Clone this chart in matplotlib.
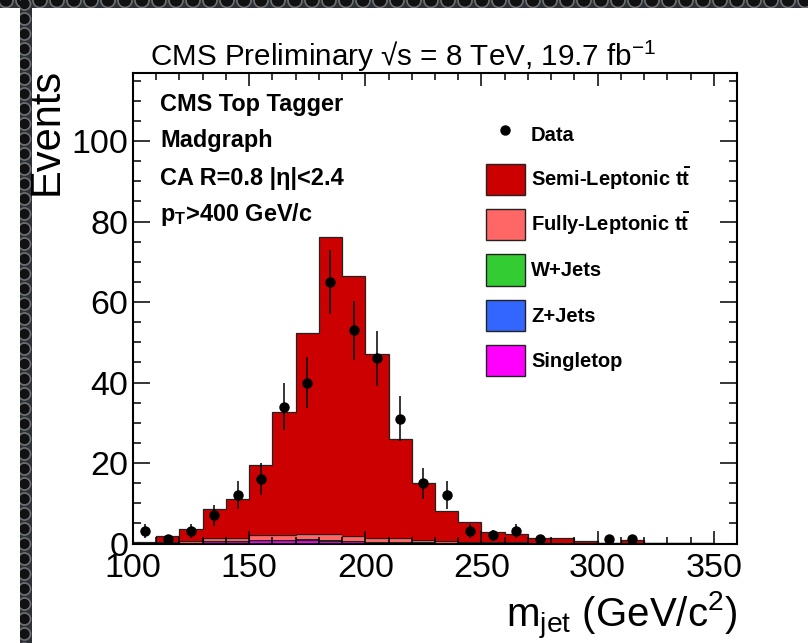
import numpy as np
import matplotlib
matplotlib.use("Agg")
import matplotlib.pyplot as plt
from matplotlib.patches import Circle, Patch
from matplotlib.lines import Line2D

plt.rcParams["font.family"] = ["Liberation Sans", "DejaVu Sans"]
plt.rcParams["mathtext.fontset"] = "custom"
plt.rcParams["mathtext.rm"] = "Liberation Sans"
plt.rcParams["mathtext.it"] = "Liberation Sans:italic"
plt.rcParams["mathtext.bf"] = "Liberation Sans:bold"

# ── histogram content (10 GeV bins, 100-350) ───────────────────────────────
bin_edges = np.arange(100, 351, 10)
singletop = [0.05, 0.05, 0.15, 0.65, 0.55, 0.8, 0.75, 0.85, 0.7, 0.55, 0.4, 0.3,
             0.2, 0.15, 0.1, 0.05, 0.05, 0.0, 0.0, 0.0, 0.0, 0.0, 0.0, 0.0, 0.0]
z_jets = [0.0, 0.0, 0.0, 0.02, 0.03, 0.05, 0.05, 0.05, 0.05, 0.04, 0.03, 0.02,
          0.02, 0.0, 0.0, 0.0, 0.0, 0.0, 0.0, 0.0, 0.0, 0.0, 0.0, 0.0, 0.0]
w_jets = [0.0, 0.0, 0.03, 0.05, 0.08, 0.1, 0.1, 0.1, 0.1, 0.08, 0.06, 0.05,
          0.04, 0.03, 0.02, 0.0, 0.0, 0.0, 0.0, 0.0, 0.0, 0.0, 0.0, 0.0, 0.0]
fully_lep = [0.1, 0.25, 0.4, 0.75, 0.6, 1.15, 1.3, 1.4, 1.4, 1.2, 1.0, 0.9,
             0.6, 0.4, 0.3, 0.2, 0.2, 0.15, 0.1, 0.05, 0.05, 0.05, 0.05, 0.05, 0.05]
semi_lep = [0.3, 1.6, 2.9, 7.1, 9.7, 17.3, 30.4, 50.0, 73.8, 64.6, 45.6, 24.6,
            14.1, 7.6, 4.8, 2.5, 2.0, 1.1, 1.3, 0.5, 0.05, 0.9, 0.15, 0.15, 0.15]

data_counts = [3, 1, 3, 7, 12, 16, 34, 40, 65, 53, 46, 31,
               15, 12, 3, 2, 3, 1, 0, 0, 1, 1, 0, 0, 0]

# stack order bottom -> top
samples = [
    ("Singletop", singletop, "#ff00ff"),
    ("Z+Jets", z_jets, "#3366ff"),
    ("W+Jets", w_jets, "#33cc33"),
    ("Fully-Leptonic t$\\mathbf{\\bar{t}}$", fully_lep, "#ff6666"),
    ("Semi-Leptonic t$\\mathbf{\\bar{t}}$", semi_lep, "#cc0000"),
]

W, H = 808, 643


def px_axes(fig, x0, y0, w, h, **kw):
    """Add axes from pixel box measured from the top-left corner."""
    return fig.add_axes([x0 / W, 1 - (y0 + h) / H, w / W, h / H], **kw)


def fig_text(fig, x, y, s, **kw):
    return fig.text(x / W, 1 - y / H, s, **kw)


def draw_frame(fig):
    # dark perforated strip along the top and the left
    for box, centers, r in [
        ((0, 0, W, 8), [(x, 0.5) for x in np.arange(6, W + 17, 17)], 7.0),
        ((20, 0, 12, H), [(4.5, y) for y in np.arange(4, H + 15, 15)], 6.0),
    ]:
        a = px_axes(fig, *box)
        a.set_xlim(0, box[2])
        a.set_ylim(box[3], 0)
        a.set_axis_off()
        a.add_patch(plt.Rectangle((0, 0), box[2], box[3], color="#2e3134"))
        for c in centers:
            a.add_patch(Circle(c, r, facecolor="#111111", edgecolor="#6d7277",
                               lw=1.2, clip_on=True))


fig = plt.figure(figsize=(W / 100, H / 100), dpi=100)
draw_frame(fig)

ax = px_axes(fig, 133, 72.7, 604, 470.8)

bottom = np.zeros(len(semi_lep))
for name, vals, color in samples:
    top = bottom + np.asarray(vals)
    ax.stairs(top, bin_edges, baseline=bottom, fill=True, color=color, lw=0)
    ax.stairs(top, bin_edges, baseline=0, fill=False, color="#222222", lw=0.9)
    bottom = top

counts = np.asarray(data_counts, dtype=float)
centers = 0.5 * (bin_edges[:-1] + bin_edges[1:])
has = counts > 0
ax.errorbar(centers[has], counts[has], yerr=np.sqrt(counts[has]), fmt="o",
            color="black", ms=6.5, elinewidth=1.1, capsize=0, zorder=5)

ax.set_xlim(100, 360)
ax.set_ylim(0, 117)
ax.set_xticks(np.arange(100, 351, 50))
ax.set_xticks(np.arange(100, 360, 10), minor=True)
ax.set_yticks(np.arange(0, 101, 20))
ax.set_yticks(np.arange(0, 117, 5), minor=True)
for s in ax.spines.values():
    s.set_linewidth(1.5)
ax.tick_params(which="both", direction="in", top=True, right=True, width=1.1,
               labelsize=24.5)
ax.tick_params(axis="x", which="major", length=9.5, pad=6.5)
ax.tick_params(axis="x", which="minor", length=4.8)
ax.tick_params(axis="y", which="major", length=12, pad=3.5)
ax.tick_params(axis="y", which="minor", length=6)

# legend
handles = [Line2D([], [], ls="none", marker="o", color="black", ms=6.5)]
labels = ["Data"]
for name, vals, color in reversed(samples):
    handles.append(Patch(facecolor=color, edgecolor="#222222", lw=1.0))
    labels.append(name)
ax.legend(handles, labels, loc="upper left", bbox_to_anchor=(0.584, 0.902),
          frameon=False, borderpad=0, borderaxespad=0,
          handlelength=1.95, handleheight=2.0, handletextpad=0.3,
          labelspacing=0.70, prop={"size": 14.5, "weight": "bold"})

# annotations
info = ["CMS Top Tagger", "Madgraph", "CA R=0.8 |η|<2.4",
        "p$_{\\mathbf{T}}$>400 GeV/c"]
for i, line in enumerate(info):
    fig_text(fig, 160, 110.5 + 37 * i, line, fontsize=16.9, fontweight="bold",
             va="baseline")

fig_text(fig, 150, 66, "CMS Preliminary √s = 8 TeV, 19.7 fb$^{-1}$",
         fontsize=21.3, va="baseline")
fig_text(fig, 47, 68, "Events", fontsize=30, rotation=90, ha="center", va="top")
fig_text(fig, 737, 627, "m$_{\\mathrm{jet}}$ (GeV/c$^{2}$)", fontsize=29,
         ha="right", va="baseline")

fig.savefig("out.png", dpi=100)
